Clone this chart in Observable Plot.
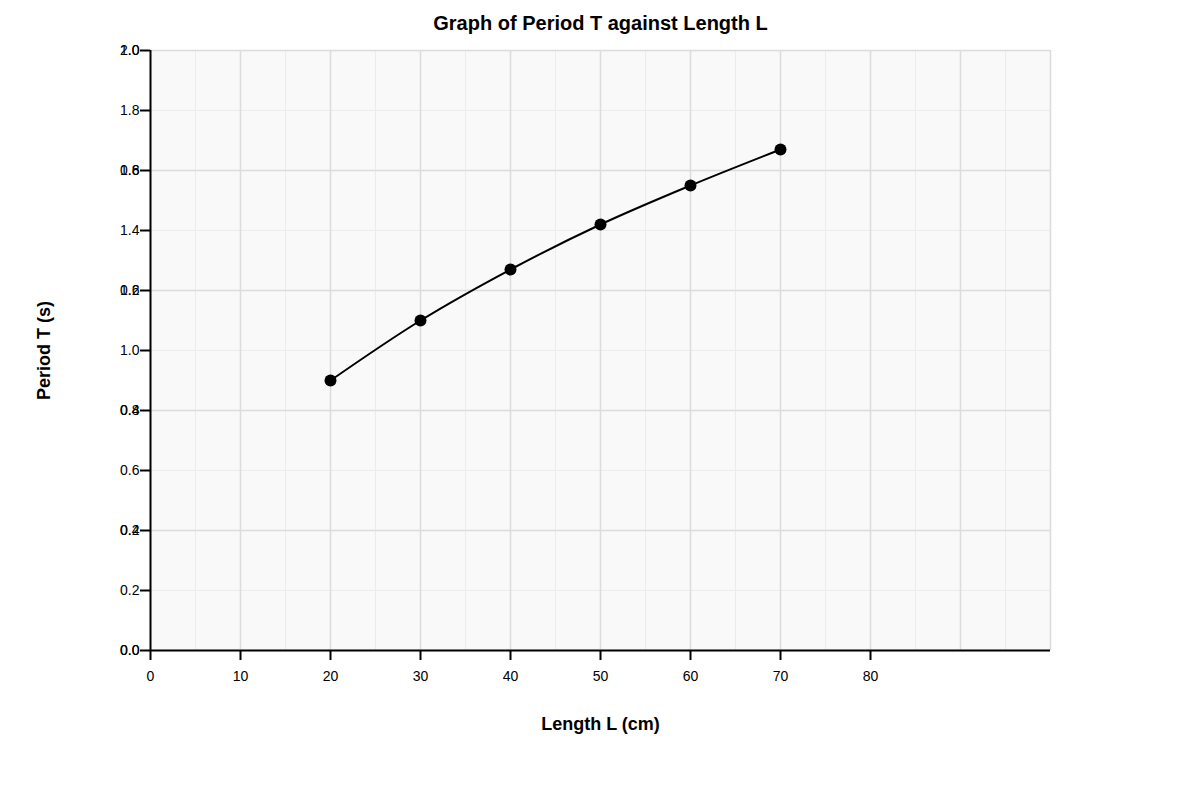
<!DOCTYPE html>
<html>
<head>
<meta charset="utf-8">
<script src="https://cdn.jsdelivr.net/npm/d3@7"></script>
<script src="https://cdn.jsdelivr.net/npm/@observablehq/plot@0.6"></script>
<style>
  html, body { margin: 0; padding: 0; background: #fff; }
  #chart svg { display: block; font-family: "Liberation Sans", Arial, sans-serif; }
</style>
</head>
<body>
<div id="chart"></div>
<script>
// Data
const lengths = [20, 30, 40, 50, 60, 70];
const periods = [0.90, 1.10, 1.27, 1.42, 1.55, 1.67];

// Tick labels
const xTicks = [0, 10, 20, 30, 40, 50, 60, 70, 80];
const yTicks = [0.0, 0.2, 0.4, 0.6, 0.8, 1.0, 1.2, 1.4, 1.6, 1.8, 2.0];
const yMajorGrid = [0.0, 0.4, 0.8, 1.2, 1.6, 2.0];
const yMinorGrid = [0.2, 0.6, 1.0, 1.4, 1.8];
const yOverlayLabels = ["0.0", "0.2", "0.4", "0.6", "0.8", "1.0"];
const xMajorGrid = [10, 20, 30, 40, 50, 60, 70, 80, 90, 100];
const xMinorGrid = [5, 15, 25, 35, 45, 55, 65, 75, 85, 95];

const title = "Graph of Period T against Length L";
const xLabel = "Length L (cm)";
const yLabel = "Period T (s)";

const data = lengths.map((L, i) => ({L, T: periods[i]}));

const chart = Plot.plot({
  width: 1200,
  height: 800,
  marginLeft: 150,
  marginRight: 150,
  marginTop: 50,
  marginBottom: 150,
  style: {fontFamily: "Liberation Sans, Arial, sans-serif", fontSize: "14px", color: "#000", background: "#fff"},
  x: {domain: [0, 100]},
  y: {domain: [0, 2]},
  marks: [
    Plot.frame({fill: "#f9f9f9", stroke: null}),
    Plot.gridX(xMinorGrid, {stroke: "#ececec", strokeOpacity: 1, strokeWidth: 1}),
    Plot.gridY(yMinorGrid, {stroke: "#ececec", strokeOpacity: 1, strokeWidth: 1}),
    Plot.gridX(xMajorGrid, {stroke: "#dcdcdc", strokeOpacity: 1, strokeWidth: 1.5}),
    Plot.gridY(yMajorGrid, {stroke: "#dcdcdc", strokeOpacity: 1, strokeWidth: 1.5}),
    Plot.axisX(xTicks, {tickSize: 10, tickPadding: 11, strokeWidth: 2, fontSize: 14, label: null, tickFormat: d => String(d)}),
    Plot.axisY(yTicks, {tickSize: 10, tickPadding: 1, strokeWidth: 2, fontSize: 14, label: null, tickFormat: d => d.toFixed(1)}),
    Plot.text(yOverlayLabels, {
      y: (d, i) => yMajorGrid[i],
      text: d => d,
      frameAnchor: "left",
      textAnchor: "end",
      dx: -11,
      fontSize: 14,
      fill: "#000"
    }),
    Plot.ruleX([0], {stroke: "#000", strokeWidth: 2}),
    Plot.ruleY([0], {stroke: "#000", strokeWidth: 2}),
    Plot.line(data, {x: "L", y: "T", stroke: "#000", strokeWidth: 2, curve: "catmull-rom"}),
    Plot.dot(data, {x: "L", y: "T", r: 6, fill: "#000", stroke: null}),
    Plot.text([title], {frameAnchor: "top", lineAnchor: "middle", dy: -27, fontSize: 20, fontWeight: "bold", fill: "#000"}),
    Plot.text([xLabel], {frameAnchor: "bottom", lineAnchor: "middle", dy: 74, fontSize: 18, fontWeight: "bold", fill: "#000"}),
    Plot.text([yLabel], {frameAnchor: "left", textAnchor: "middle", lineAnchor: "middle", dx: -106, rotate: -90, fontSize: 18, fontWeight: "bold", fill: "#000"})
  ]
});

document.getElementById("chart").appendChild(chart);
</script>
</body>
</html>
